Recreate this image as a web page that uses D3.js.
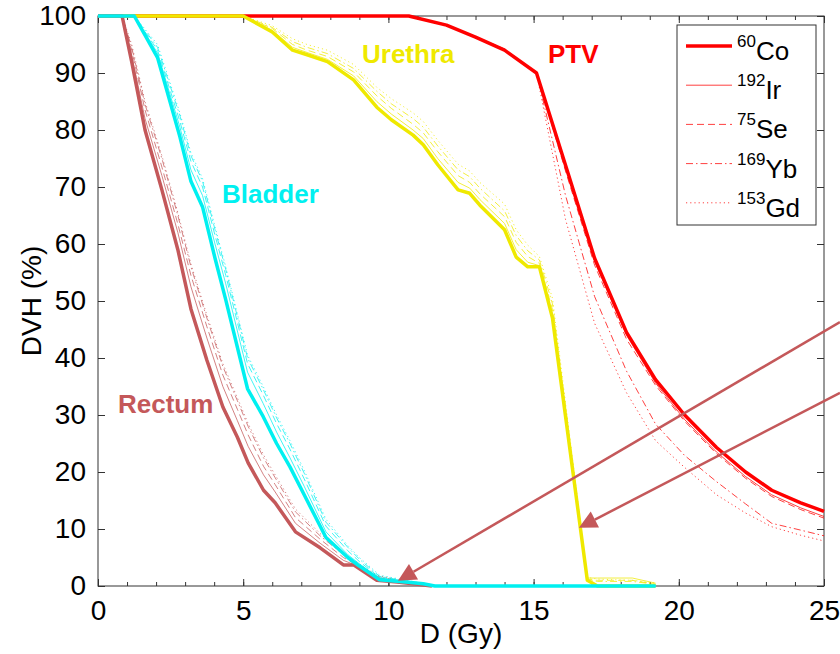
<!DOCTYPE html>
<html>
<head>
<meta charset="utf-8">
<script src="https://cdn.jsdelivr.net/npm/d3@7"></script>
<style>
  html, body { margin: 0; padding: 0; background: #fff; }
  svg { display: block; font-family: "Liberation Sans", Arial, Helvetica, sans-serif; }
</style>
</head>
<body>
<div id="chart"></div>
<script>
// Isotopes (legend order)
const isoMass = ["60", "192", "75", "169", "153"];
const isoSym = ["Co", "Ir", "Se", "Yb", "Gd"];

// PTV
const ptvDose = [0, 10.7, 12.0, 13.0, 14.0, 15.1, 16.1, 17.1, 18.2, 19.2, 20.2, 21.3, 22.3, 23.2, 24.2, 25.0];
const ptvCo = [100, 100, 98.4, 96.3, 94.0, 90.0, 73.8, 57.5, 44.5, 36.2, 30.0, 24.3, 20.0, 16.8, 14.6, 13.1];
const ptvIr = [100, 100, 98.4, 96.2, 93.9, 90.0, 73.5, 57.0, 44.0, 35.6, 29.2, 23.5, 19.2, 16.0, 13.7, 12.2];
const ptvSe = [100, 100, 98.5, 96.4, 94.2, 90.0, 72.8, 56.3, 43.3, 35.2, 28.9, 23.2, 18.9, 15.7, 13.4, 11.9];
const ptvYb = [100, 100, 98.4, 96.3, 94.0, 90.0, 68.5, 50.8, 37.7, 28.4, 22.9, 18.3, 14.4, 11.0, 9.8, 8.8];
const ptvGd = [100, 100, 98.4, 96.3, 94.0, 90.0, 64.3, 46.1, 33.9, 25.5, 20.8, 16.0, 12.8, 10.4, 8.9, 7.9];

// Urethra
const uretDose = [0, 5.0, 6.0, 6.7, 7.2, 7.9, 8.8, 9.6, 10.1, 10.85, 11.2, 11.7, 12.4, 12.8, 13.15, 14.0, 14.4, 14.8, 15.2, 15.65, 16.85, 17.2, 18.4, 19.2];
const uretCo = [100, 100, 97.2, 94.0, 93.2, 92.0, 88.8, 84.0, 81.8, 79.1, 77.4, 73.9, 69.5, 68.9, 66.8, 62.5, 57.7, 56.0, 56.0, 47.0, 1.0, 0, 0, 0];
const uretIr = [100, 100, 97.5, 94.5, 93.6, 92.4, 89.5, 85.0, 82.8, 80.0, 78.5, 75.0, 70.8, 69.8, 67.8, 63.6, 59.0, 56.8, 56.2, 47.5, 1.4, 1.4, 1.4, 0.5];
const uretSe = [100, 100, 97.8, 95.0, 94.0, 92.9, 90.2, 86.0, 83.8, 81.0, 79.5, 76.2, 72.0, 70.8, 68.8, 64.8, 60.3, 57.8, 56.6, 48.5, 1.2, 1.0, 1.0, 0.3];
const uretYb = [100, 100, 98.0, 95.5, 94.5, 93.4, 90.8, 86.8, 84.6, 82.0, 80.5, 77.2, 73.0, 71.8, 69.8, 65.8, 61.5, 58.8, 57.2, 49.5, 1.2, 0.8, 0.8, 0.3];
const uretGd = [100, 100, 98.3, 96.0, 95.0, 94.0, 91.5, 87.5, 85.5, 83.0, 81.5, 78.2, 74.0, 72.8, 70.8, 67.0, 62.5, 59.8, 57.8, 50.5, 1.5, 1.2, 1.0, 0.5];

// Rectum
const rectDose = [0, 0.83, 1.16, 1.62, 2.2, 2.75, 3.2, 3.75, 4.3, 4.8, 5.17, 5.7, 6.1, 6.8, 7.65, 8.45, 8.8, 9.6, 10.3, 11.0, 11.5];
const rectCo = [100, 100, 92.0, 80.0, 69.5, 59.0, 48.6, 39.6, 31.4, 26.1, 21.6, 16.8, 14.6, 9.5, 6.7, 3.7, 3.7, 1.0, 0.7, 0.3, 0];
const rectIr = [100, 100, 93.0, 82.0, 72.0, 62.0, 52.5, 43.5, 35.0, 29.0, 24.5, 19.5, 16.5, 11.0, 7.5, 4.5, 3.8, 1.3, 0.8, 0.3, 0];
const rectSe = [100, 100, 94.0, 83.5, 73.5, 63.5, 54.5, 45.5, 37.0, 31.0, 26.5, 21.0, 17.8, 12.0, 8.2, 5.0, 4.0, 1.5, 0.9, 0.4, 0];
const rectYb = [100, 100, 94.5, 84.5, 75.0, 65.0, 56.0, 47.0, 38.5, 32.5, 28.0, 22.5, 19.0, 13.0, 8.8, 5.5, 4.3, 1.7, 1.0, 0.4, 0];
const rectGd = [100, 100, 95.0, 85.0, 75.5, 65.5, 56.5, 47.5, 39.0, 33.0, 28.5, 23.0, 19.5, 13.5, 9.2, 5.8, 4.5, 1.9, 1.1, 0.5, 0];

// Bladder
const bladDose = [0, 1.25, 2.05, 2.82, 3.2, 3.6, 4.03, 4.4, 5.15, 5.69, 6.15, 6.61, 7.1, 7.85, 8.6, 9.0, 9.7, 10.6, 11.2, 11.6, 19.2];
const bladCo = [100, 100, 92.7, 78.8, 71.0, 66.5, 57.5, 50.2, 34.6, 29.7, 25.0, 20.9, 16.0, 8.5, 5.0, 3.5, 1.1, 0.7, 0.4, 0, 0];
const bladIr = [100, 100, 93.5, 80.5, 73.0, 68.5, 60.0, 53.0, 37.5, 32.0, 27.0, 22.5, 17.5, 9.5, 5.5, 3.9, 1.3, 0.7, 0.4, 0, 0];
const bladSe = [100, 100, 94.0, 81.5, 74.5, 70.0, 61.5, 54.5, 39.0, 33.5, 28.5, 24.0, 18.8, 10.5, 6.2, 4.3, 1.5, 0.8, 0.4, 0, 0];
const bladYb = [100, 100, 94.5, 82.5, 75.5, 71.0, 62.5, 55.5, 40.0, 34.5, 29.5, 25.0, 19.8, 11.2, 6.8, 4.7, 1.7, 0.9, 0.5, 0, 0];
const bladGd = [100, 100, 95.0, 83.0, 76.0, 71.5, 63.0, 56.0, 40.5, 35.0, 30.0, 25.5, 20.3, 11.7, 7.1, 5.0, 1.9, 1.0, 0.5, 0, 0];

// Annotation arrows [from dose, from %, to dose, to %]
const arrows = [
  [25.55, 46.3, 10.33, 0.9],
  [25.55, 33.9, 16.56, 10.2]
];

const xTicks = [0, 5, 10, 15, 20, 25];
const yTicks = [0, 10, 20, 30, 40, 50, 60, 70, 80, 90, 100];

// ---- layout ----
const W = 840, H = 654;
const X0 = 98, X1 = 824, Y0 = 586, Y1 = 16;
const FONT = 28;
const RED = "#ff0000", YEL = "#efe900", CYAN = "#00f0f0", BROWN = "#c4585a";

// per-isotope line style
const isoStyle = [
  { w: 3.5, dash: null },
  { w: 1, dash: null },
  { w: 1, dash: "7,4" },
  { w: 1, dash: "7,3,1.5,3" },
  { w: 1, dash: "1.2,3" }
];

const structures = [
  { color: RED, dose: ptvDose, series: [ptvCo, ptvIr, ptvSe, ptvYb, ptvGd] },
  { color: YEL, dose: uretDose, series: [uretCo, uretIr, uretSe, uretYb, uretGd] },
  { color: BROWN, dose: rectDose, series: [rectCo, rectIr, rectSe, rectYb, rectGd] },
  { color: CYAN, dose: bladDose, series: [bladCo, bladIr, bladSe, bladYb, bladGd] }
];

const x = d3.scaleLinear().domain([0, 25]).range([X0, X1]);
const y = d3.scaleLinear().domain([0, 100]).range([Y0, Y1]);

const svg = d3.select("#chart").append("svg")
  .attr("width", W).attr("height", H)
  .attr("viewBox", `0 0 ${W} ${H}`);

svg.append("rect").attr("width", W).attr("height", H).attr("fill", "#fff");

// Axes ticks (inward), all four sides
const tickCol = "#333";
const minorX = d3.range(0, 26, 1);

function styleAxis(g) {
  g.select(".domain").remove();
  g.selectAll(".tick line").attr("stroke", tickCol).attr("stroke-width", 1);
  g.selectAll(".tick text")
    .attr("fill", "#000")
    .attr("font-size", FONT)
    .attr("font-family", "'Liberation Sans', Arial, Helvetica, sans-serif");
}

svg.append("g").attr("transform", `translate(0,${Y0})`)
  .call(d3.axisBottom(x).tickValues(minorX).tickSize(-4).tickFormat(""))
  .call(styleAxis);
svg.append("g").attr("transform", `translate(0,${Y0})`)
  .call(d3.axisBottom(x).tickValues(xTicks).tickSize(-7).tickPadding(14).tickFormat(d3.format("d")))
  .call(styleAxis);
svg.append("g").attr("transform", `translate(0,${Y1})`)
  .call(d3.axisTop(x).tickValues(minorX).tickSize(-4).tickFormat(""))
  .call(styleAxis);
svg.append("g").attr("transform", `translate(0,${Y1})`)
  .call(d3.axisTop(x).tickValues(xTicks).tickSize(-7).tickFormat(""))
  .call(styleAxis);
svg.append("g").attr("transform", `translate(${X0},0)`)
  .call(d3.axisLeft(y).tickValues(yTicks).tickSize(-7).tickPadding(12).tickFormat(d3.format("d")))
  .call(styleAxis);
svg.append("g").attr("transform", `translate(${X1},0)`)
  .call(d3.axisRight(y).tickValues(yTicks).tickSize(-7).tickFormat(""))
  .call(styleAxis);

// Box
svg.append("rect")
  .attr("x", X0).attr("y", Y1)
  .attr("width", X1 - X0).attr("height", Y0 - Y1)
  .attr("fill", "none").attr("stroke", tickCol).attr("stroke-width", 1);

// Axis titles
svg.append("text")
  .attr("x", (X0 + X1) / 2).attr("y", 643)
  .attr("text-anchor", "middle")
  .attr("font-size", FONT)
  .text("D (Gy)");

svg.append("text")
  .attr("transform", `translate(41,${(Y0 + Y1) / 2}) rotate(-90)`)
  .attr("text-anchor", "middle")
  .attr("font-size", FONT)
  .text("DVH (%)");

// Curves
const line = d3.line()
  .x(d => x(d[0]))
  .y(d => y(d[1]));

structures.forEach(s => {
  // thin ones first, 60Co on top
  [4, 3, 2, 1, 0].forEach(i => {
    const pts = s.dose.map((d, k) => [d, s.series[i][k]]);
    svg.append("path")
      .datum(pts)
      .attr("d", line)
      .attr("fill", "none")
      .attr("stroke", s.color)
      .attr("stroke-width", isoStyle[i].w)
      .attr("stroke-linejoin", "round")
      .attr("stroke-dasharray", isoStyle[i].dash)
      .attr("opacity", i === 0 ? 1 : 0.75);
  });
});

// Structure labels
const labels = [
  { text: "Urethra", x: 362, y: 63, color: YEL },
  { text: "PTV", x: 548, y: 63, color: RED },
  { text: "Bladder", x: 222, y: 203, color: CYAN },
  { text: "Rectum", x: 118, y: 413, color: BROWN }
];
labels.forEach(l => {
  svg.append("text")
    .attr("x", l.x).attr("y", l.y)
    .attr("font-size", 26)
    .attr("font-weight", "bold")
    .attr("fill", l.color)
    .text(l.text);
});

// Arrows
arrows.forEach(a => {
  const x1 = x(a[0]), y1 = y(a[1]), x2 = x(a[2]), y2 = y(a[3]);
  const ang = Math.atan2(y2 - y1, x2 - x1);
  const len = 18, half = 9;
  const bx = x2 - len * Math.cos(ang), by = y2 - len * Math.sin(ang);
  svg.append("line")
    .attr("x1", x1).attr("y1", y1).attr("x2", bx).attr("y2", by)
    .attr("stroke", BROWN).attr("stroke-width", 2.5);
  const head = [
    [x2, y2],
    [bx + half * Math.sin(ang), by - half * Math.cos(ang)],
    [bx - half * Math.sin(ang), by + half * Math.cos(ang)]
  ];
  svg.append("path")
    .attr("d", "M" + head.map(p => p.join(",")).join("L") + "Z")
    .attr("fill", BROWN);
});

// Legend
const lg = svg.append("g");
lg.append("rect")
  .attr("x", 677).attr("y", 25)
  .attr("width", 139).attr("height", 200)
  .attr("fill", "#fff").attr("stroke", tickCol).attr("stroke-width", 1);

isoSym.forEach((sym, i) => {
  const ly = 46 + i * 39.2;
  lg.append("line")
    .attr("x1", 686).attr("x2", 732)
    .attr("y1", ly).attr("y2", ly)
    .attr("stroke", RED)
    .attr("stroke-width", isoStyle[i].w)
    .attr("stroke-dasharray", isoStyle[i].dash)
    .attr("opacity", i === 0 ? 1 : 0.75);
  const t = lg.append("text")
    .attr("x", 737).attr("y", ly + 14);
  t.append("tspan").attr("font-size", 17).attr("dy", -13).text(isoMass[i]);
  t.append("tspan").attr("font-size", 26).attr("dy", 13).text(sym);
});
</script>
</body>
</html>
